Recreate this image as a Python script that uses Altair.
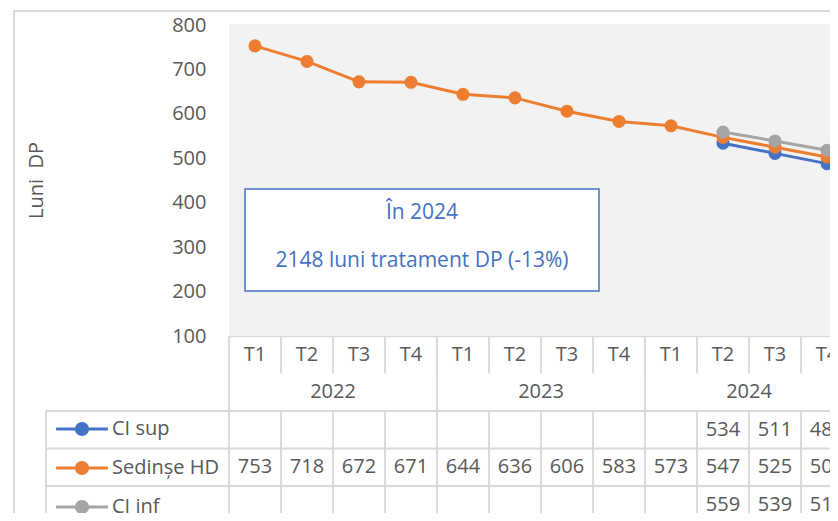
import altair as alt
import pandas as pd

# ---------------- data ----------------
quarters = ["T1", "T2", "T3", "T4", "T1", "T2", "T3", "T4", "T1", "T2", "T3", "T4"]
years = ["2022", "2022", "2022", "2022", "2023", "2023", "2023", "2023", "2024", "2024", "2024", "2024"]
sedinte_hd = [753, 718, 672, 671, 644, 636, 606, 583, 573, 547, 525, 503]
ci_sup = [None, None, None, None, None, None, None, None, None, 534, 511, 488]
ci_inf = [None, None, None, None, None, None, None, None, None, 559, 539, 518]
series_names = ["CI sup", "Sedinșe HD", "CI inf"]
series_colors = ["#4472C4", "#ED7D31", "#A5A5A5"]
y_ticks = [100, 200, 300, 400, 500, 600, 700, 800]
y_title = "Luni\u00a0\u00a0DP"
note_lines = ["În 2024", "2148 luni tratament DP (-13%)"]

# ---------------- layout constants ----------------
FONT = "Open Sans"
TXT = "#595959"
GRID = "#D9D9D9"
W, H = 601, 488            # plot-area size (to window edge)
COL = 52                   # px per category column
PLOT_H = 311               # px from 800 to 100
ROW = 37.5                 # px per table row
x_dom = [-0.5, -0.5 + W / COL]
units_per_px = (y_ticks[-1] - y_ticks[0]) / PLOT_H
y_dom = [y_ticks[-1] - H * units_per_px, y_ticks[-1]]
t_top = -PLOT_H / ROW
t_dom = [t_top, t_top + H / ROW]
LEFT = -0.5 - 183 / COL    # left edge of the data table label column

x_enc = alt.X("i:Q", scale=alt.Scale(domain=x_dom, nice=False, zero=False), axis=None)

# ---------------- main plot ----------------
series_values = [ci_sup, sedinte_hd, ci_inf]
rows = []
for name, vals in zip(series_names, series_values):
    for i, v in enumerate(vals):
        if v is not None:
            rows.append({"i": i, "series": name, "value": v})
df = pd.DataFrame(rows)

y_enc = alt.Y(
    "value:Q",
    scale=alt.Scale(domain=y_dom, nice=False, zero=False),
    axis=alt.Axis(
        values=y_ticks, grid=True, gridColor=GRID, gridWidth=1.4, domain=False, ticks=False,
        labelFont=FONT, labelFontSize=20, labelColor=TXT, labelPadding=23,
        title=y_title, titleFont=FONT, titleFontSize=20, titleFontWeight="normal", titleColor=TXT,
        titleX=-193, titleY=155, titleAngle=-90, titleAlign="center", titleBaseline="middle",
    ),
)

bg_df = pd.DataFrame({"i": [x_dom[0] - 1], "i2": [len(quarters) + 1], "value": [y_ticks[0]], "value2": [y_ticks[-1]]})
bg = alt.Chart(bg_df).mark_rect(color="#F2F2F2", clip=True).encode(
    x=x_enc, x2="i2:Q", y=y_enc, y2="value2:Q"
)

SYM = ("M-3.7,0L3.7,0"
       "M0.8,0A0.8,0.8 0 1,1 -0.8,0A0.8,0.8 0 1,1 0.8,0"
       "M0.45,0A0.45,0.45 0 1,1 -0.45,0A0.45,0.45 0 1,1 0.45,0"
       "M0.1,0A0.1,0.1 0 1,1 -0.1,0A0.1,0.1 0 1,1 0.1,0")

color_scale = alt.Scale(domain=series_names, range=series_colors)
legend = alt.Legend(
    title=None, orient="none", legendX=-157, legendY=394, direction="vertical",
    symbolType=SYM, symbolSize=196, symbolStrokeWidth=3, symbolOffset=0,
    labelFont=FONT, labelFontSize=20, labelColor=TXT, labelOffset=20,
    rowPadding=15, padding=0,
)

series_layers = []
for k, name in enumerate(series_names):
    base = alt.Chart(df).transform_filter(alt.datum.series == name)
    line = base.mark_line(strokeWidth=3).encode(
        x=x_enc, y=y_enc,
        color=alt.Color("series:N", scale=color_scale, legend=legend),
    )
    pts = base.mark_point(filled=True, size=170, opacity=1).encode(
        x=x_enc, y=y_enc,
        color=alt.Color("series:N", scale=color_scale, legend=None),
    )
    series_layers += [line, pts]

note_box = alt.Chart(pd.DataFrame({"a": [0]})).mark_rect(
    fill="white", stroke="#4472C4", strokeWidth=1.5
).encode(x=alt.value(16), x2=alt.value(370), y=alt.value(164), y2=alt.value(266))

note_df = pd.DataFrame({"txt": note_lines, "k": [0, 1]})
note_txt0 = alt.Chart(note_df[note_df.k == 0]).mark_text(
    font=FONT, fontSize=21, color="#4472C4", align="center", baseline="middle"
).encode(text="txt:N", x=alt.value(193), y=alt.value(188))
note_txt1 = alt.Chart(note_df[note_df.k == 1]).mark_text(
    font=FONT, fontSize=21, color="#4472C4", align="center", baseline="middle"
).encode(text="txt:N", x=alt.value(193), y=alt.value(236))

main = alt.layer(bg, note_box, note_txt0, note_txt1, *series_layers)

# ---------------- data table ----------------
t_enc = alt.Y("r:Q", scale=alt.Scale(domain=t_dom, nice=False, zero=False, reverse=True), axis=None)

cat_df = pd.DataFrame({"i": list(range(len(quarters))), "q": quarters, "year": years, "r": 0.5})
q_text = alt.Chart(cat_df).mark_text(font=FONT, fontSize=20, color=TXT, baseline="middle").encode(
    x=x_enc, y=t_enc, text="q:N"
)
y_text = alt.Chart(cat_df).transform_aggregate(
    i="mean(i)", groupby=["year"]
).transform_calculate(r="1.5").mark_text(font=FONT, fontSize=20, color=TXT, baseline="middle").encode(
    x=x_enc, y=t_enc, text="year:N"
)

val_rows = []
for k, (name, vals) in enumerate(zip(series_names, series_values)):
    for i, v in enumerate(vals):
        if v is not None:
            val_rows.append({"i": i, "r": 2.5 + k, "v": str(v)})
val_df = pd.DataFrame(val_rows)
v_text = alt.Chart(val_df).mark_text(font=FONT, fontSize=20, color=TXT, baseline="middle").encode(
    x=x_enc, y=t_enc, text="v:N"
)

n = len(quarters)
rules = []
for k in range(1, n):
    rules.append({"i": k - 0.5, "i2": k - 0.5, "r": 0, "r2": 1})
for k in range(0, n + 1, 4):
    rules.append({"i": k - 0.5, "i2": k - 0.5, "r": 0, "r2": 2})
for k in range(0, n + 1):
    rules.append({"i": k - 0.5, "i2": k - 0.5, "r": 2, "r2": 7})
rules.append({"i": LEFT, "i2": LEFT, "r": 2, "r2": 7})
for rr in [2, 3, 4, 5]:
    rules.append({"i": LEFT, "i2": n + 1, "r": rr, "r2": rr})
rule_df = pd.DataFrame(rules)
grid_rules = alt.Chart(rule_df).mark_rule(color=GRID, strokeWidth=1.8).encode(
    x=x_enc, x2="i2:Q", y=t_enc, y2="r2:Q"
)

table = alt.layer(grid_rules, q_text, y_text, v_text)

# outer chart border
border = alt.Chart(pd.DataFrame({"a": [0]})).mark_rect(
    fill=None, stroke=GRID, strokeWidth=2
).encode(x=alt.value(-215), x2=alt.value(800), y=alt.value(-14), y2=alt.value(700))

chart = alt.layer(border, main, table).resolve_scale(y="independent").properties(
    width=W, height=H,
    autosize=alt.AutoSizeParams(type="none"),
    padding={"left": 221, "top": 17, "right": 0, "bottom": 0},
    background="white",
).configure_view(stroke=None)

chart.save("out.html", embed_options={"renderer": "svg", "actions": False})
